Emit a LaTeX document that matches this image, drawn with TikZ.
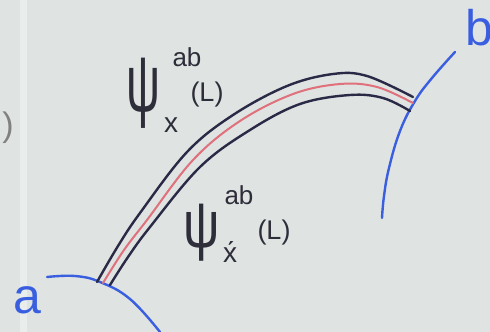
\documentclass[tikz,border=0pt]{standalone}
\usepackage{fontspec}
\newfontfamily\dv{Liberation Sans}
\definecolor{bg}{HTML}{DFE3E2}
\definecolor{strip}{HTML}{E9EDEC}
\definecolor{ink}{HTML}{2A2A46}
\definecolor{rd}{HTML}{E0707C}
\definecolor{bl}{HTML}{3A5EE0}
\definecolor{txt}{HTML}{2E2E3A}
\tikzset{
  band/.style={ink, line width=2.4pt, line cap=round},
  mid/.style={rd, line width=2pt, line cap=round},
  endarc/.style={bl, line width=2.4pt, line cap=round},
  lbl/.style={inner sep=0pt, text=txt, font=\dv},
  big/.style={inner sep=0pt, text=bl, font=\dv\fontsize{50}{50}\selectfont},
}
\begin{document}
\begin{tikzpicture}[x=1pt,y=-1pt]
\fill[bg] (0,0) rectangle (490,332);
\useasboundingbox (0,0) rectangle (490,332);
\fill[strip] (20,0) rectangle (27,332);
% end arcs
\draw[endarc] plot[smooth,tension=0.7] coordinates {(47,277) (75,276) (100,282) (130,299) (160,332)};
\draw[endarc] plot[smooth,tension=0.7] coordinates {(455,52) (432,78) (415,101) (400,131) (389,168) (384,196) (382,218)};
% band
\draw[band] plot[smooth,tension=0.6] coordinates {(97,282) (118,246) (140,213) (187,152) (233,115) (287,86) (333,74) (367,76) (413,97)};
\draw[mid] plot[smooth,tension=0.6] coordinates {(103,283) (124,250) (147,220) (193,160) (240,121) (293,94) (340,84) (377,87) (413,103)};
\draw[band] plot[smooth,tension=0.6] coordinates {(110,285) (128,257) (150,227) (200,167) (250,130) (300,104) (350,95) (383,98) (410,111)};
% labels
\node[lbl, font=\dv\fontsize{34}{34}\selectfont] (psi1) at (143,93) {\scalebox{1.4}[2.4]{ψ}};
\node[lbl, font=\dv\fontsize{26}{26}\selectfont] (sup1) at (187,57) {ab};
\node[lbl, font=\dv\fontsize{27}{27}\selectfont] (L1) at (207,95) {(L)};
\node[lbl, font=\dv\fontsize{28}{28}\selectfont] (sub1) at (171,125) {x};
\node[lbl, font=\dv\fontsize{34}{34}\selectfont] (psi2) at (202,233) {\scalebox{1.5}[1.95]{ψ}};
\node[lbl, font=\dv\fontsize{26}{26}\selectfont] (sup2) at (239,195) {ab};
\node[lbl, font=\dv\fontsize{27}{27}\selectfont] (L2) at (274,233) {(L)};
\node[lbl, font=\dv\fontsize{28}{28}\selectfont] (sub2) at (230,252) {\'x};
\node[big] (a) at (27,300) {a};
\node[big, anchor=west] (b) at (465,28) {b};
\node[lbl, text=gray, font=\dv\fontsize{34}{34}\selectfont] (par) at (8,128) {)};
\end{tikzpicture}
\end{document}
